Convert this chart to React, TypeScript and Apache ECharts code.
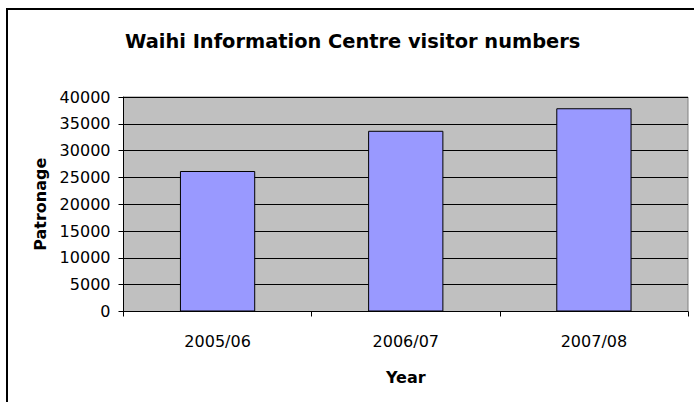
import React, { useEffect, useRef } from "react";
import * as echarts from "echarts";

const categories = ["2005/06", "2006/07", "2007/08"];
const visitors = [26200, 33700, 37900];
const titleText = "Waihi Information Centre visitor numbers";
const xName = "Year";
const yName = "Patronage";

export default function App() {
  const ref = useRef<HTMLDivElement>(null);
  useEffect(() => {
    if (!ref.current) return;
    const chart = echarts.init(ref.current, null, { renderer: "svg" });
    const font = "'DejaVu Sans', sans-serif";
    chart.setOption({
      animation: false,
      backgroundColor: "#ffffff",
      title: {
        text: titleText,
        left: 120,
        top: 27,
        textStyle: { fontFamily: font, fontSize: 19.4, fontWeight: "bold", color: "#000" },
      },
      graphic: [
        {
          type: "rect",
          shape: { x: 7, y: 9, width: 740, height: 440 },
          style: { fill: "none", stroke: "#000", lineWidth: 2 },
          silent: true,
        },
      ],
      grid: {
        left: 123.5,
        top: 97,
        right: 6,
        bottom: 90.5,
        show: true,
        backgroundColor: "#C0C0C0",
        borderColor: "#808080",
        borderWidth: 1,
      },
      xAxis: {
        type: "category",
        data: categories,
        boundaryGap: true,
        name: xName,
        nameLocation: "middle",
        nameGap: 58,
        nameTextStyle: { fontFamily: font, fontSize: 16, fontWeight: "bold", color: "#000" },
        axisLine: { lineStyle: { color: "#000", width: 1 } },
        axisTick: { show: true, length: 5, alignWithLabel: false, lineStyle: { color: "#000" } },
        axisLabel: { fontFamily: font, fontSize: 16, color: "#000", margin: 22 },
      },
      yAxis: {
        type: "value",
        min: 0,
        max: 40000,
        interval: 5000,
        name: yName,
        nameLocation: "middle",
        nameGap: 75,
        nameTextStyle: { fontFamily: font, fontSize: 16, fontWeight: "bold", color: "#000" },
        axisLine: { show: true, lineStyle: { color: "#000", width: 1 } },
        axisTick: { show: true, length: 5, lineStyle: { color: "#000" } },
        axisLabel: {
          fontFamily: font,
          fontSize: 16,
          color: "#000",
          margin: 13,
          formatter: (v: number) => String(v),
        },
        splitLine: { show: true, lineStyle: { color: "#000", width: 1 } },
      },
      series: [
        {
          type: "bar",
          data: visitors,
          barWidth: "40%",
          itemStyle: { color: "#9999FF", borderColor: "#000", borderWidth: 1 },
        },
      ],
    });
    return () => chart.dispose();
  }, []);
  return (
    <div
      ref={ref}
      style={{ position: "fixed", left: 0, top: 0, width: 694, height: 402 }}
    />
  );
}
